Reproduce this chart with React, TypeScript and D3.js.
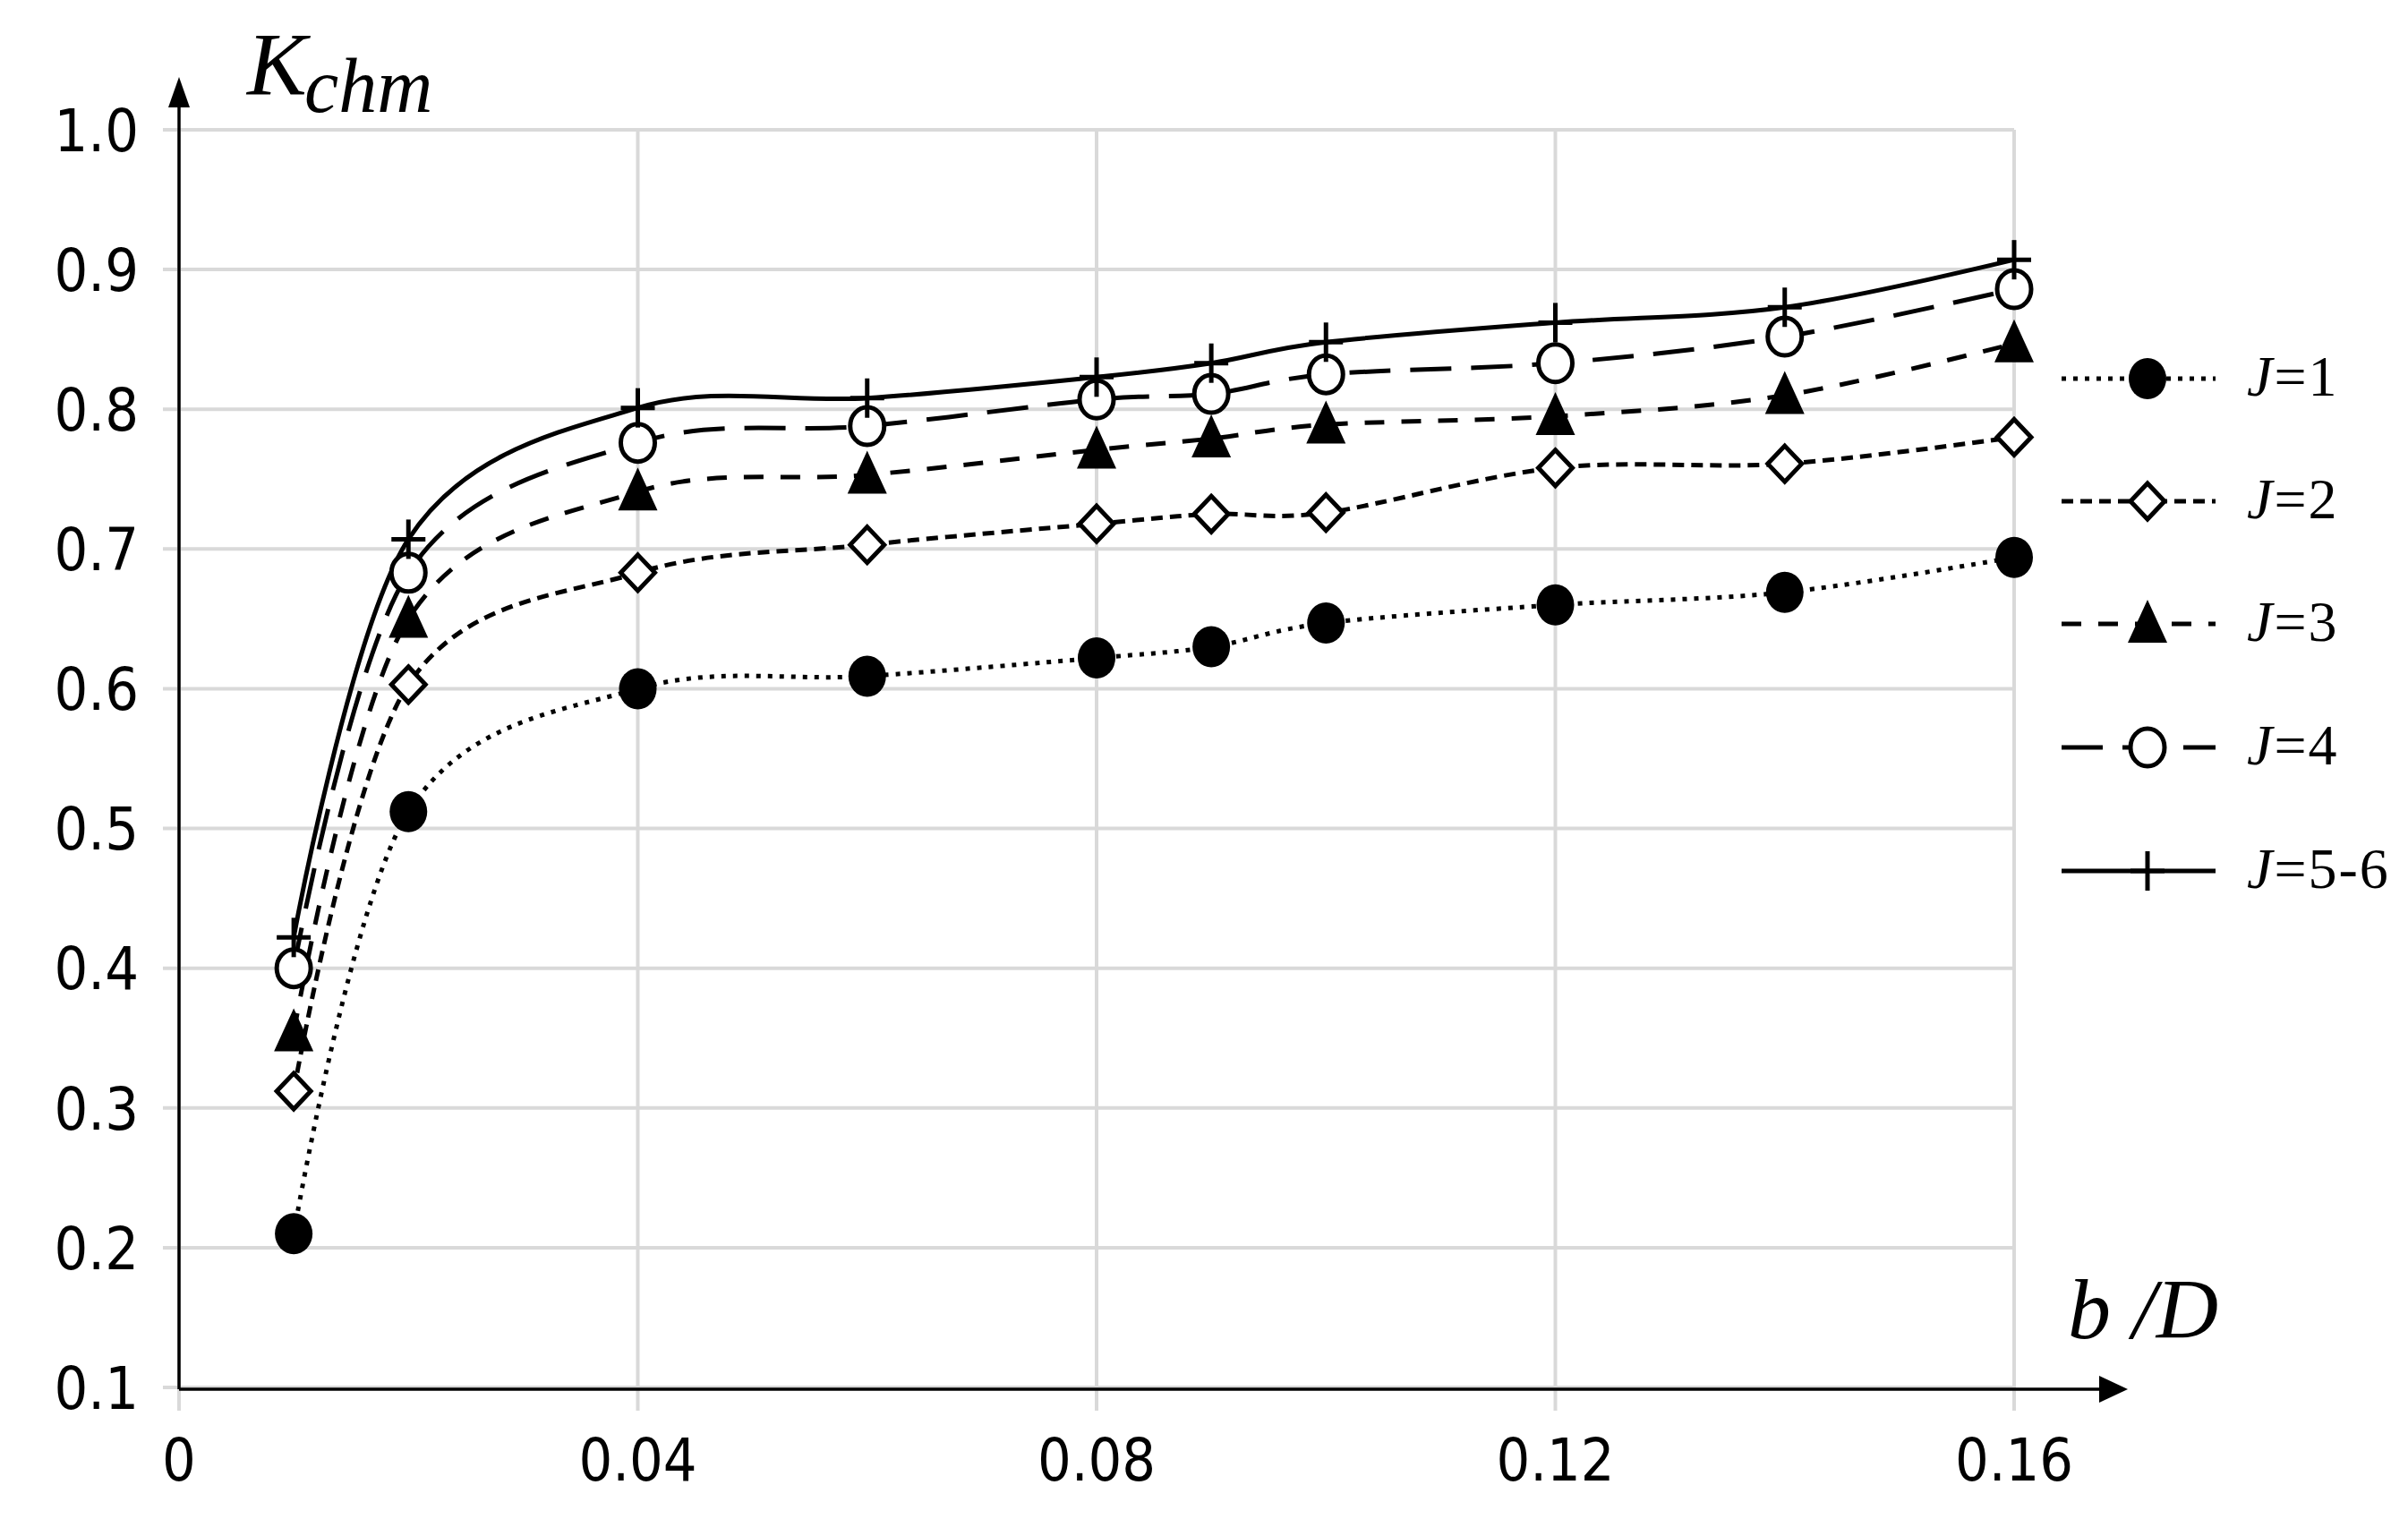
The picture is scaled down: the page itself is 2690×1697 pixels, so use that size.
import React from "react";
import * as d3 from "d3";

const xValues = [0.01, 0.02, 0.04, 0.06, 0.08, 0.09, 0.10, 0.12, 0.14, 0.16];
const seriesJ1 = [0.21, 0.512, 0.6, 0.609, 0.622, 0.63, 0.647, 0.66, 0.669, 0.694];
const seriesJ2 = [0.312, 0.603, 0.683, 0.703, 0.718, 0.725, 0.726, 0.758, 0.761, 0.78];
const seriesJ3 = [0.354, 0.65, 0.741, 0.753, 0.771, 0.779, 0.789, 0.795, 0.81, 0.847];
const seriesJ4 = [0.4, 0.683, 0.776, 0.788, 0.807, 0.811, 0.825, 0.833, 0.852, 0.886];
const seriesJ56 = [0.422, 0.707, 0.801, 0.808, 0.823, 0.833, 0.848, 0.862, 0.873, 0.907];
const seriesNames = ["J=1", "J=2", "J=3", "J=4", "J=5-6"];
const xTicks = [0, 0.04, 0.08, 0.12, 0.16];
const xTickLabels = ["0", "0.04", "0.08", "0.12", "0.16"];
const yTicks = [0.1, 0.2, 0.3, 0.4, 0.5, 0.6, 0.7, 0.8, 0.9, 1.0];

const W = 2690;
const H = 1697;
const X0 = 200;
const X1 = 2250;
const Y0 = 1550;
const Y1 = 145;

const styles = [
  { dash: "5,8", width: 5, marker: "dot" },
  { dash: "13,8", width: 5, marker: "diamond" },
  { dash: "22,19", width: 5, marker: "triangle" },
  { dash: "46,22", width: 5, marker: "circle" },
  { dash: "", width: 5, marker: "plus" },
];

function Marker({ kind, cx, cy }: { kind: string; cx: number; cy: number }) {
  if (kind === "dot") return <ellipse cx={cx} cy={cy} rx={21} ry={23} fill="#000" />;
  if (kind === "diamond")
    return (
      <path
        d={`M${cx},${cy - 20}L${cx + 19},${cy}L${cx},${cy + 20}L${cx - 19},${cy}Z`}
        fill="#fff"
        stroke="#000"
        strokeWidth={5}
      />
    );
  if (kind === "triangle")
    return <path d={`M${cx},${cy - 27}L${cx + 22},${cy + 21}L${cx - 22},${cy + 21}Z`} fill="#000" />;
  if (kind === "circle")
    return <ellipse cx={cx} cy={cy} rx={19} ry={21} fill="#fff" stroke="#000" strokeWidth={5} />;
  return (
    <g stroke="#000" strokeWidth={5}>
      <line x1={cx - 19} x2={cx + 19} y1={cy} y2={cy} />
      <line x1={cx} x2={cx} y1={cy - 22} y2={cy + 22} />
    </g>
  );
}

export default function App() {
  const x = d3.scaleLinear().domain([0, 0.16]).range([X0, X1]);
  const y = d3.scaleLinear().domain([0.1, 1.0]).range([Y0, Y1]);
  const all = [seriesJ1, seriesJ2, seriesJ3, seriesJ4, seriesJ56];
  const line = d3
    .line<[number, number]>()
    .x((d) => x(d[0]))
    .y((d) => y(d[1]))
    .curve(d3.curveCardinal.tension(0));

  const tickFont = { fontFamily: "'DejaVu Sans Condensed', 'DejaVu Sans', sans-serif", fontStretch: "condensed" as const };
  const serif = "'Liberation Serif', 'DejaVu Serif', serif";
  const legendY = [423, 560, 697, 835, 973];

  return (
    <svg width={W} height={H} style={{ position: "absolute", left: 0, top: 0, background: "#fff" }}>
      <rect x={0} y={0} width={W} height={H} fill="#fff" />
      {/* gridlines */}
      {yTicks.map((t) => (
        <line key={"gy" + t} x1={X0 - 18} x2={X1} y1={y(t)} y2={y(t)} stroke="#d9d9d9" strokeWidth={4} />
      ))}
      {xTicks.map((t) => (
        <line key={"gx" + t} x1={x(t)} x2={x(t)} y1={Y1} y2={Y0 + 26} stroke="#d9d9d9" strokeWidth={4} />
      ))}
      {/* axes */}
      <line x1={X0} x2={X0} y1={Y0 + 2} y2={105} stroke="#000" strokeWidth={3.5} />
      <path d={`M${X0},86L${X0 + 12},120L${X0 - 12},120Z`} fill="#000" />
      <line x1={X0} x2={2355} y1={Y0 + 2} y2={Y0 + 2} stroke="#000" strokeWidth={3.5} />
      <path d={`M2377,${Y0 + 2}L2345,${Y0 + 17}L2345,${Y0 - 13}Z`} fill="#000" />

      {/* tick labels */}
      {yTicks.map((t) => (
        <text key={"ty" + t} x={155} y={y(t)} dy="0.36em" textAnchor="end" fontSize={66} fill="#000" style={tickFont}>
          {t.toFixed(1)}
        </text>
      ))}
      {xTicks.map((t, i) => (
        <text key={"tx" + t} x={x(t)} y={1630} dy="0.36em" textAnchor="middle" fontSize={66} fill="#000" style={tickFont}>
          {xTickLabels[i]}
        </text>
      ))}

      {/* axis titles */}
      <text x={276} y={105} fontFamily={serif} fontStyle="italic" fontSize={100} fill="#000">
        K
        <tspan x={340} y={125} fontSize={86}>chm</tspan>
      </text>
      <text x={2310} y={1495} fontFamily={serif} fontStyle="italic" fontSize={96} fill="#000">
        b /D
      </text>

      {/* series */}
      {all.map((vals, si) => (
        <path
          key={"l" + si}
          d={line(xValues.map((xv, i) => [xv, vals[i]] as [number, number])) || ""}
          fill="none"
          stroke="#000"
          strokeWidth={styles[si].width}
          strokeDasharray={styles[si].dash || undefined}
        />
      ))}
      {all.map((vals, si) =>
        xValues.map((xv, i) => <Marker key={`m${si}-${i}`} kind={styles[si].marker} cx={x(xv)} cy={y(vals[i])} />)
      )}

      {/* legend */}
      {seriesNames.map((name, si) => (
        <g key={"lg" + si}>
          <line
            x1={2303}
            x2={2475}
            y1={legendY[si]}
            y2={legendY[si]}
            stroke="#000"
            strokeWidth={styles[si].width}
            strokeDasharray={styles[si].dash || undefined}
          />
          <Marker kind={styles[si].marker} cx={2399} cy={legendY[si]} />
          <text x={2510} y={legendY[si]} dy="0.3em" fontFamily={serif} fontSize={64} letterSpacing={2} fill="#000">
            <tspan fontStyle="italic">J</tspan>
            {name.slice(1)}
          </text>
        </g>
      ))}
    </svg>
  );
}
